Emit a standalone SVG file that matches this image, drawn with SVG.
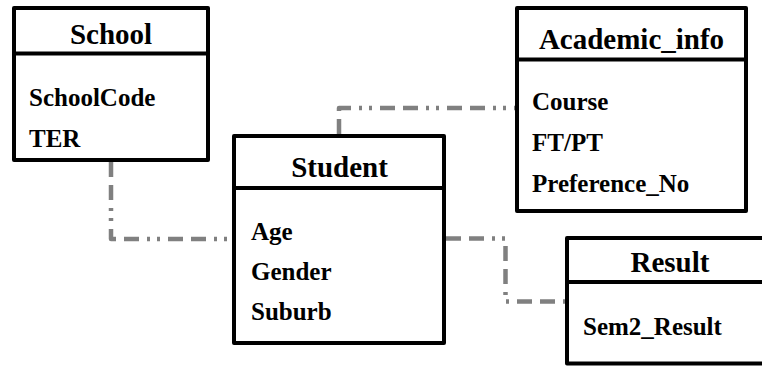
<svg xmlns="http://www.w3.org/2000/svg" width="762" height="367" viewBox="0 0 762 367">
  <style>
    .box { fill: #ffffff; stroke: #000000; stroke-width: 4; stroke-linejoin: round; }
    .div { stroke: #000000; stroke-width: 4; }
    .title { font-family: "Liberation Serif", "Times New Roman", serif; font-weight: bold; font-size: 29px; fill: #000000; text-anchor: middle; }
    .attr { font-family: "Liberation Serif", "Times New Roman", serif; font-weight: bold; font-size: 25px; fill: #000000; }
    .conn { fill: none; stroke: #808080; stroke-width: 4.5; stroke-dasharray: 15 8 15 8 3 7 3 8; stroke-linejoin: round; }
  </style>
  <rect width="762" height="367" fill="#ffffff"/>
  <g id="connectors">
    <path class="conn" d="M111 162 V239 H232"/>
    <path class="conn" d="M339 134 V108 H515"/>
    <path class="conn" d="M446 238.5 H505.5 V301.5 H565"/>
  </g>
  <g id="School">
    <rect class="box" x="14" y="8" width="194" height="152"/>
    <line class="div" x1="14" y1="53.5" x2="208" y2="53.5"/>
    <text class="title" x="111" y="44">School</text>
    <text class="attr" x="29" y="106">SchoolCode</text>
    <text class="attr" x="29" y="146.5">TER</text>
  </g>
  <g id="Academic_info">
    <rect class="box" x="517" y="8" width="229" height="203"/>
    <line class="div" x1="517" y1="59.5" x2="746" y2="59.5"/>
    <text class="title" x="631.5" y="49">Academic_info</text>
    <text class="attr" x="532" y="110">Course</text>
    <text class="attr" x="532" y="151">FT/PT</text>
    <text class="attr" x="532" y="192">Preference_No</text>
  </g>
  <g id="Student">
    <rect class="box" x="234" y="136" width="210" height="207"/>
    <line class="div" x1="234" y1="188" x2="444" y2="188"/>
    <text class="title" x="339.5" y="177">Student</text>
    <text class="attr" x="251" y="240">Age</text>
    <text class="attr" x="251" y="280">Gender</text>
    <text class="attr" x="251" y="320">Suburb</text>
  </g>
  <g id="Result">
    <rect class="box" x="567" y="238" width="206" height="125.5"/>
    <line class="div" x1="567" y1="282" x2="773" y2="282"/>
    <text class="title" x="670" y="272">Result</text>
    <text class="attr" x="583" y="335">Sem2_Result</text>
  </g>
</svg>
